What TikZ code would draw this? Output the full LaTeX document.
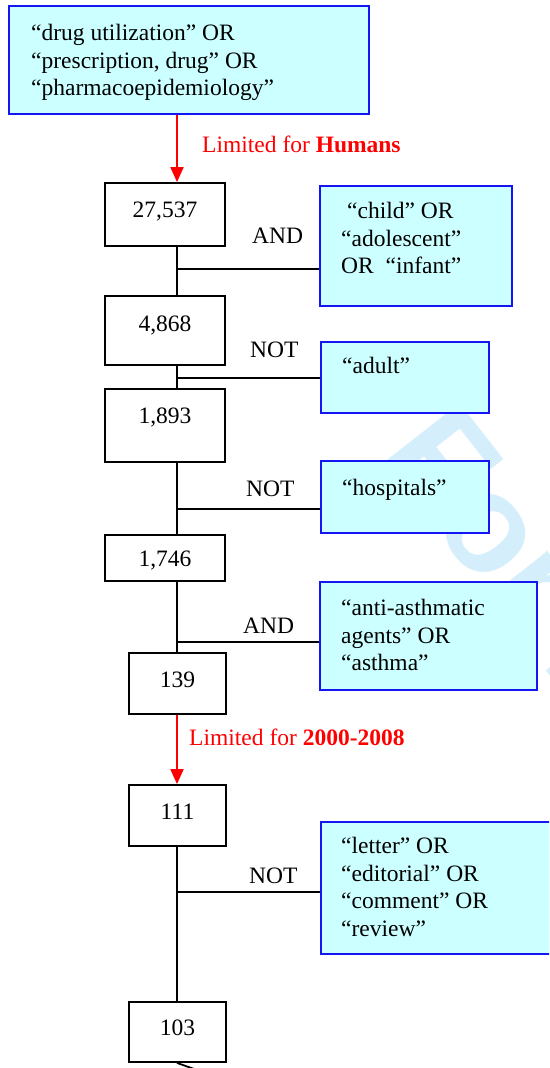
\documentclass[tikz,border=0pt]{standalone}
\usepackage{fontspec}
\setmainfont{Liberation Serif}
\newfontfamily\wmfont{Liberation Sans}
\usetikzlibrary{arrows.meta}
\definecolor{boxblue}{RGB}{20,20,245}
\definecolor{boxfill}{RGB}{204,255,255}
\definecolor{wmblue}{RGB}{212,238,251}
\tikzset{
  numbox/.style={draw=black, line width=1.8pt, fill=white, rectangle, inner sep=0pt},
  termbox/.style={draw=boxblue, line width=2pt, fill=boxfill, rectangle, inner sep=0pt},
  txt/.style={inner sep=0pt, font=\fontsize{23.5}{27.5}\selectfont},
  mtxt/.style={txt, align=left, anchor=north west},
  redtxt/.style={txt, text=red, anchor=base west},
  conn/.style={line width=1.8pt, black},
  redarrow/.style={line width=1.8pt, red, -{Triangle[width=13pt,length=15pt]}},
}
\begin{document}
\begin{tikzpicture}[x=1pt, y=-1pt]
\useasboundingbox (0,0) rectangle (549,1068);
\clip (0,0) rectangle (549,1068);
\fill[white] (0,0) rectangle (549,1068);
% watermark
\node[inner sep=0pt, anchor=base west, rotate=-52, text=wmblue,
      font=\wmfont\bfseries\fontsize{140}{140}\selectfont] (wm) at (378,455) {For Peer Review};
% spine coordinate
\coordinate (spine) at (177,0);
% top term box
\node[termbox, minimum width=360pt, minimum height=108pt] (top) at (189,59.5) {};
\node[mtxt] (toptxt) at (31,24) {“drug utilization” OR\\“prescription, drug” OR\\“pharmacoepidemiology”};
% number boxes
\node[numbox, minimum width=120pt, minimum height=63pt] (b1) at (165,214.5) {};
\node[txt, anchor=base] (t1) at (165,217) {27,537};
\node[numbox, minimum width=120pt, minimum height=69pt] (b2) at (165,330.5) {};
\node[txt, anchor=base] (t2) at (165,331) {4,868};
\node[numbox, minimum width=120pt, minimum height=73pt] (b3) at (165,425.5) {};
\node[txt, anchor=base] (t3) at (165,423) {1,893};
\node[numbox, minimum width=120pt, minimum height=46pt] (b4) at (165,558) {};
\node[txt, anchor=base] (t4) at (165,566) {1,746};
\node[numbox, minimum width=97pt, minimum height=61pt] (b5) at (177.5,683.5) {};
\node[txt, anchor=base] (t5) at (177.5,687) {139};
\node[numbox, minimum width=97pt, minimum height=61pt] (b6) at (177.5,815.5) {};
\node[txt, anchor=base] (t6) at (177.5,819) {111};
\node[numbox, minimum width=97pt, minimum height=60pt] (b7) at (177.5,1032) {};
\node[txt, anchor=base] (t7) at (177.5,1035) {103};
% term boxes on the right
\node[termbox, minimum width=192pt, minimum height=120pt] (c1) at (416,246) {};
\node[mtxt] (c1t) at (341,202) {\hspace{6pt}“child” OR\\“adolescent”\\OR \ “infant”};
\node[termbox, minimum width=168pt, minimum height=71pt] (c2) at (405,377.5) {};
\node[mtxt] (c2t) at (342,357) {“adult”};
\node[termbox, minimum width=168pt, minimum height=72pt] (c3) at (405,497) {};
\node[mtxt] (c3t) at (342,479) {“hospitals”};
\node[termbox, minimum width=217pt, minimum height=108pt] (c4) at (428.5,636) {};
\node[mtxt] (c4t) at (341,599) {“anti-asthmatic\\agents” OR\\“asthma”};
\node[termbox, minimum width=250pt, minimum height=132pt] (c5) at (446,888) {};
\node[mtxt] (c5t) at (341,837) {“letter” OR\\“editorial” OR\\“comment” OR\\“review”};
% operator labels
\node[txt, anchor=base west] (op1) at (252,243) {AND};
\node[txt, anchor=base west] (op2) at (250,357) {NOT};
\node[txt, anchor=base west] (op3) at (246,496) {NOT};
\node[txt, anchor=base west] (op4) at (243,633) {AND};
\node[txt, anchor=base west] (op5) at (249,883) {NOT};
% red limits
\node[redtxt] (l1) at (202,152) {Limited for \textbf{Humans}};
\node[redtxt] (l2) at (189,745) {Limited for \textbf{2000-2008}};
% junction coordinates
\coordinate (j1) at (177,269);
\coordinate (j2) at (177,378);
\coordinate (j3) at (177,509);
\coordinate (j4) at (177,642);
\coordinate (j5) at (177,892);
\coordinate (off) at (225,1080);
% connectors
\draw[redarrow] (top.south -| spine) -- (b1.north -| spine);
\draw[conn] (b1.south -| spine) -- (b2.north -| spine);
\draw[conn] (j1) -- (j1 -| c1.west);
\draw[conn] (b2.south -| spine) -- (b3.north -| spine);
\draw[conn] (j2) -- (j2 -| c2.west);
\draw[conn] (b3.south -| spine) -- (b4.north -| spine);
\draw[conn] (j3) -- (j3 -| c3.west);
\draw[conn] (b4.south -| spine) -- (b5.north -| spine);
\draw[conn] (j4) -- (j4 -| c4.west);
\draw[redarrow] (b5.south -| spine) -- (b6.north -| spine);
\draw[conn] (b6.south -| spine) -- (b7.north -| spine);
\draw[conn] (j5) -- (j5 -| c5.west);
\draw[conn] (b7.south -| spine) -- (off);
\end{tikzpicture}
\end{document}
